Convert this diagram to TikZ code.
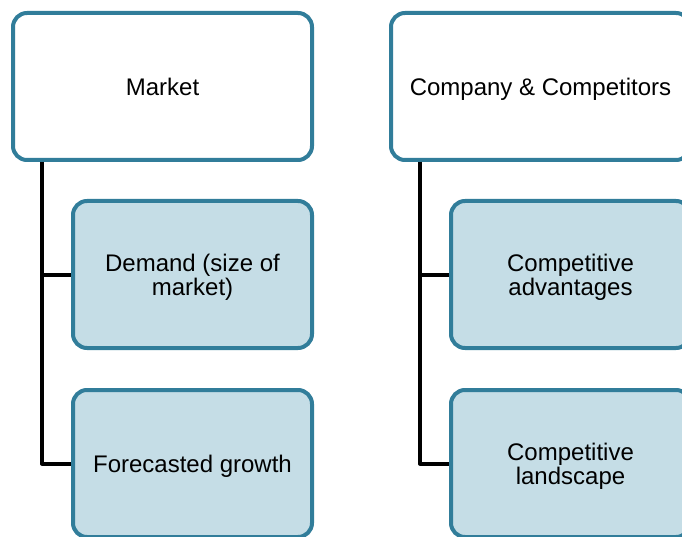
\documentclass[tikz,border=0pt]{standalone}
\usepackage{fontspec}
\setmainfont{Liberation Sans}
\usetikzlibrary{positioning}
\definecolor{boxline}{RGB}{49,125,154}
\definecolor{boxfill}{RGB}{197,221,230}
\tikzstyle{parentbox} = [rectangle, draw=boxline, line width=4pt, fill=white, rounded corners=14pt, minimum width=299pt, minimum height=147pt, align=center, text depth=0pt, font=\fontsize{24}{24}\selectfont]
\tikzstyle{childbox} = [parentbox, fill=boxfill, minimum width=239pt, minimum height=147pt]
\tikzstyle{link} = [line width=4pt, line join=round]

\begin{document}
\begin{tikzpicture}

\clip (0,0) rectangle (682pt,-537pt);

\node[parentbox] (market) at (162.5pt,-86.5pt) {Market};
\node[childbox, below=37pt of market.south east, anchor=north east] (demand) {Demand (size of\\market)};
\node[childbox, below=38pt of demand] (growth) {Forecasted growth};

\node[parentbox, right=75pt of market] (company) {Company \& Competitors};
\node[childbox, below=37pt of company.south east, anchor=north east] (advantages) {Competitive\\advantages};
\node[childbox, below=38pt of advantages] (landscape) {Competitive\\landscape};

\draw[link] ([xshift=31pt]market.south west) |- (demand.west);
\draw[link] ([xshift=31pt]market.south west) |- (growth.west);
\draw[link] ([xshift=31pt]company.south west) |- (advantages.west);
\draw[link] ([xshift=31pt]company.south west) |- (landscape.west);

\end{tikzpicture}
\end{document}
